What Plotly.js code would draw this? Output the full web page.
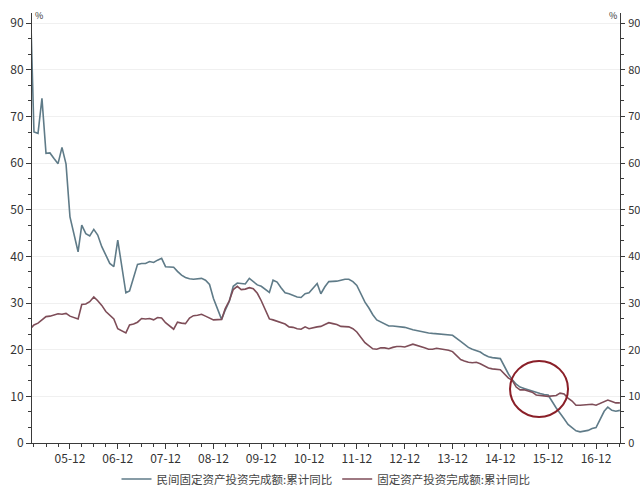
<!DOCTYPE html>
<html>
<head>
<meta charset="utf-8">
<script src="https://cdn.plot.ly/plotly-3.0.1.min.js"></script>
<style>html,body{margin:0;padding:0;background:#fff;}#chart{width:640px;height:490px;}</style>
</head>
<body>
<div id="chart"></div>
<script>
// Years covered (monthly cumulative data, Feb–Dec; no January release)
const years = [2005,2006,2007,2008,2009,2010,2011,2012,2013,2014,2015,2016,2017];
const lastYearMonths = 5; // 2017: Feb–Jun

// 民间固定资产投资完成额:累计同比 (%)
const privateYoY = [
  95, 66.7, 66.4, 73.9, 62.1, 62.2, 61.0, 59.9, 63.4, 59.8, 48.5,
  41.0, 46.7, 44.9, 44.4, 45.8, 44.6, 42.1, 40.3, 38.5, 37.8, 43.5,
  32.2, 32.6, 35.5, 38.3, 38.5, 38.5, 38.9, 38.7, 39.2, 39.6, 37.8,
  37.7, 36.8, 36.0, 35.5, 35.2, 35.1, 35.2, 35.3, 34.9, 34.0, 31.0,
  26.5, 28.5, 30.4, 33.6, 34.3, 34.2, 34.1, 35.3, 34.6, 33.9, 33.6,
  32.3, 34.9, 34.5, 33.3, 32.2, 32.0, 31.7, 31.3, 31.2, 32.0, 32.2,
  34.2, 32.0, 33.5, 34.6, 34.6, 34.7, 34.9, 35.1, 35.1, 34.6, 33.8,
  30.2, 29.0, 27.5, 26.4, 25.9, 25.5, 25.1, 25.1, 25.0, 24.9, 24.8,
  24.3, 24.1, 24.0, 23.8, 23.6, 23.5, 23.4, 23.3, 23.3, 23.2, 23.1,
  21.8, 21.1, 20.5, 20.1, 19.8, 19.5, 18.9, 18.5, 18.3, 18.2, 18.1,
  14.8, 13.6, 12.6, 12.0, 11.7, 11.4, 11.2, 10.9, 10.6, 10.4, 10.3,
  7.5, 6.5, 5.2, 4.0, 3.2, 2.6, 2.4, 2.5, 2.7, 3.1, 3.3,
  6.8, 7.7, 7.0, 6.8, 7.0
];

// 固定资产投资完成额:累计同比 (%)
const totalYoY = [
  24.5, 25.3, 25.7, 26.4, 27.1, 27.2, 27.4, 27.7, 27.6, 27.8, 27.2,
  26.6, 29.7, 29.8, 30.3, 31.3, 30.5, 29.5, 28.2, 27.3, 26.6, 24.5,
  23.6, 25.3, 25.5, 25.9, 26.7, 26.6, 26.7, 26.4, 26.9, 26.8, 25.8,
  24.4, 25.9, 25.7, 25.6, 26.8, 27.3, 27.4, 27.6, 27.2, 26.8, 26.4,
  26.5, 28.8, 30.5, 32.9, 33.6, 32.9, 33.0, 33.3, 33.1, 32.1, 30.5,
  26.6, 26.4, 26.1, 25.9, 25.5, 24.9, 24.8, 24.5, 24.4, 24.9, 24.5,
  24.9, 25.0, 25.4, 25.8, 25.6, 25.4, 25.0, 24.9, 24.9, 24.5, 23.8,
  21.5, 20.9, 20.2, 20.1, 20.4, 20.4, 20.2, 20.5, 20.7, 20.7, 20.6,
  21.2, 20.9, 20.6, 20.4, 20.1, 20.1, 20.3, 20.2, 20.1, 19.9, 19.6,
  17.9, 17.6, 17.3, 17.2, 17.3, 17.0, 16.5, 16.1, 15.9, 15.8, 15.7,
  13.9, 13.5, 12.0, 11.4, 11.4, 11.2, 10.9, 10.3, 10.2, 10.2, 10.0,
  10.2, 10.7, 10.5, 9.6, 9.0, 8.1, 8.1, 8.2, 8.3, 8.3, 8.1,
  8.9, 9.2, 8.9, 8.6, 8.6
];

const seriesNames = ['民间固定资产投资完成额:累计同比', '固定资产投资完成额:累计同比'];
const seriesColors = ['#5f7b88', '#7e4d58'];
const yTicks = [0,10,20,30,40,50,60,70,80,90];

// month categories (dates) for each observation
const months = [];
years.forEach((y, i) => {
  const n = (i === years.length - 1) ? lastYearMonths : 11;
  for (let k = 0; k < n; k++) {
    const m = k + 2;
    months.push(y + '-' + (m < 10 ? '0' + m : m) + '-01');
  }
});

const font = "'Noto Sans CJK SC', 'Noto Sans', sans-serif";
const axisColor = '#3a3a3a';

const traces = [
  {x: months, y: privateYoY, type: 'scatter', mode: 'lines', name: seriesNames[0],
   line: {color: seriesColors[0], width: 1.6}},
  {x: months, y: totalYoY, type: 'scatter', mode: 'lines', name: seriesNames[1],
   line: {color: seriesColors[1], width: 1.6}},
  // same series on the right-hand axis, invisible, so that axis gets drawn
  {x: months, y: totalYoY, type: 'scatter', mode: 'lines', yaxis: 'y2', showlegend: false,
   hoverinfo: 'skip', opacity: 0, line: {color: seriesColors[1], width: 0}}
];

const yCommon = {
  range: [0, 92.2], tickvals: yTicks, ticks: 'outside', ticklen: 5, tickcolor: axisColor,
  showline: true, linecolor: axisColor, linewidth: 1, zeroline: false,
  tickfont: {family: font, size: 12, color: '#333'},
  minor: {dtick: 10/3, tick0: 0, ticks: 'outside', ticklen: 3, tickcolor: axisColor, showgrid: false}
};

const layout = {
  width: 640, height: 490,
  margin: {l: 32, r: 20, t: 13, b: 47, autoexpand: false},
  paper_bgcolor: '#fff', plot_bgcolor: '#fff',
  font: {family: font, color: '#333'},
  showlegend: true,
  legend: {orientation: 'h', x: 0.5, xanchor: 'center', y: -0.05, yanchor: 'top',
           itemwidth: 30, font: {family: font, size: 11.5, color: '#444'}},
  xaxis: {
    type: 'date', range: ['2005-02-14', '2017-06-02'],
    tick0: '2005-12-01', dtick: 'M12', tickformat: '%y-%m',
    ticks: 'outside', ticklen: 5, tickcolor: axisColor,
    showline: true, linecolor: axisColor, linewidth: 1, showgrid: false, zeroline: false,
    tickfont: {family: font, size: 12, color: '#333'},
    minor: {tick0: '2005-12-01', dtick: 'M3', ticks: 'outside', ticklen: 3, tickcolor: axisColor, showgrid: false}
  },
  yaxis: Object.assign({}, yCommon, {side: 'left', showgrid: true, gridcolor: '#f0f0f0', gridwidth: 1}),
  yaxis2: Object.assign({}, yCommon, {side: 'right', overlaying: 'y', showgrid: false, ticklen: 4,
                                      ticklabelstandoff: 1,
                                      tickfont: {family: font, size: 11, color: '#333'}}),
  shapes: [{
    type: 'circle', xref: 'x', yref: 'y',
    x0: '2015-02-13', x1: '2016-05-01', y0: 5.6, y1: 17.6,
    line: {color: '#8a1f28', width: 2}
  }],
  annotations: [
    {text: '%', xref: 'paper', yref: 'paper', x: 0, y: 1, xanchor: 'left', yanchor: 'middle',
     xshift: 1, yshift: -2, showarrow: false, font: {family: font, size: 9, color: '#333'}},
    {text: '%', xref: 'paper', yref: 'paper', x: 1, y: 1, xanchor: 'right', yanchor: 'middle',
     xshift: -1, yshift: -2, showarrow: false, font: {family: font, size: 9, color: '#333'}}
  ]
};

Plotly.newPlot('chart', traces, layout, {displayModeBar: false, staticPlot: true});
</script>
</body>
</html>
